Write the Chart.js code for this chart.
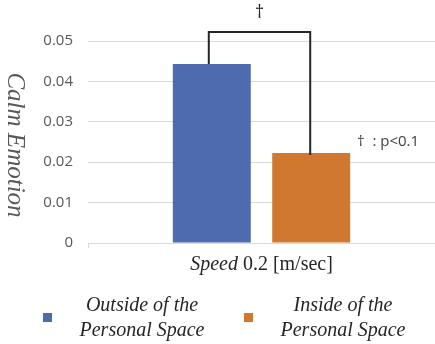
<!DOCTYPE html>
<html>
<head>
<meta charset="utf-8">
<script src="https://cdn.jsdelivr.net/npm/chart.js@4/dist/chart.umd.min.js"></script>
<style>
html,body{margin:0;padding:0;background:#fff;}
#wrap{position:relative;width:435px;height:344px;}
</style>
</head>
<body>
<div id="wrap"><canvas id="c" width="435" height="344"></canvas></div>
<script>
const categories = ['Speed 0.2 [m/sec]'];
const seriesNames = [['Outside of the', 'Personal Space'], ['Inside of the', 'Personal Space']];
const outsideValues = [0.0443];
const insideValues = [0.0223];
const yTicks = [0, 0.01, 0.02, 0.03, 0.04, 0.05];
const yTitle = 'Calm Emotion';
const sigMark = '†';
const sigNote = '†  : p<0.1';

const colors = ['#4e6bb0', '#d0782f'];

const overlay = {
  id: 'overlay',
  afterDraw(chart) {
    const ctx = chart.ctx;
    const ca = chart.chartArea;
    const m0 = chart.getDatasetMeta(0).data[0];
    const m1 = chart.getDatasetMeta(1).data[0];
    ctx.save();
    // bracket
    const yTop = ca.top - 9;
    const xl = m0.x - 3, xr = m1.x - 1;
    ctx.strokeStyle = '#262626';
    ctx.lineWidth = 2;
    ctx.beginPath();
    ctx.moveTo(xl, m0.y);
    ctx.lineTo(xl, yTop);
    ctx.lineTo(xr, yTop);
    ctx.lineTo(xr, m1.y + 2);
    ctx.stroke();
    // dagger
    ctx.fillStyle = '#262626';
    ctx.font = '18px "Open Sans"';
    ctx.textAlign = 'center';
    ctx.textBaseline = 'middle';
    ctx.fillText(sigMark, (xl + xr) / 2, 13);
    // note
    ctx.fillStyle = '#404040';
    ctx.font = '15px "Open Sans"';
    ctx.textAlign = 'left';
    ctx.fillText(sigNote, 357, 142);
    // y title rotated clockwise
    ctx.save();
    ctx.translate(15, 145);
    ctx.rotate(Math.PI / 2);
    ctx.fillStyle = '#595959';
    ctx.font = 'italic 25px "Liberation Serif"';
    ctx.textAlign = 'center';
    ctx.textBaseline = 'middle';
    ctx.fillText(yTitle, 0, 0);
    ctx.restore();
    // x category label (first word italic)
    const xs = chart.scales.x;
    const cx = xs.getPixelForValue(0);
    const label = categories[0];
    const sp = label.indexOf(' ');
    const w1 = label.slice(0, sp), w2 = label.slice(sp);
    ctx.fillStyle = '#262626';
    ctx.textBaseline = 'middle';
    ctx.font = 'italic 20px "Liberation Serif"';
    const a = ctx.measureText(w1).width;
    ctx.font = '20px "Liberation Serif"';
    const b = ctx.measureText(w2).width;
    let sx = cx - (a + b) / 2;
    ctx.textAlign = 'left';
    ctx.font = 'italic 20px "Liberation Serif"';
    ctx.fillText(w1, sx, 265);
    ctx.font = '20px "Liberation Serif"';
    ctx.fillText(w2, sx + a, 265);
    // legend
    const legend = [{box: 43, cx: 142}, {box: 244, cx: 343}];
    legend.forEach((l, i) => {
      ctx.fillStyle = colors[i];
      ctx.fillRect(l.box, 313, 9, 9);
      ctx.fillStyle = '#262626';
      ctx.font = 'italic 20px "Liberation Serif"';
      ctx.textAlign = 'center';
      ctx.fillText(seriesNames[i][0], l.cx, 306);
      ctx.fillText(seriesNames[i][1], l.cx, 331);
    });
    ctx.restore();
  }
};

new Chart(document.getElementById('c'), {
  type: 'bar',
  data: {
    labels: categories,
    datasets: [
      {label: seriesNames[0].join(' '), data: outsideValues, backgroundColor: colors[0]},
      {label: seriesNames[1].join(' '), data: insideValues, backgroundColor: colors[1]}
    ]
  },
  options: {
    responsive: false,
    animation: false,
    events: [],
    datasets: { bar: { categoryPercentage: 0.573, barPercentage: 0.784 } },
    layout: { padding: { top: 41, right: 0, left: 0, bottom: 0 } },
    plugins: { legend: { display: false }, tooltip: { enabled: false }, title: { display: false } },
    scales: {
      x: {
        ticks: { display: false },
        grid: { display: true, drawOnChartArea: false, color: '#d9d9d9', tickLength: 5 },
        border: { display: true, color: '#d9d9d9' },
        afterFit(s) { s.height = 101; }
      },
      y: {
        min: 0, max: 0.05,
        afterBuildTicks(s) { s.ticks = yTicks.map(v => ({value: v})); },
        ticks: {
          color: '#595959',
          font: { family: '"Open Sans"', size: 15 },
          padding: 15,
          callback: (v) => String(+v.toFixed(2))
        },
        grid: { color: '#d9d9d9', drawTicks: false },
        border: { display: false },
        afterFit(s) { s.width = 88; }
      }
    }
  },
  plugins: [overlay]
});
</script>
</body>
</html>
